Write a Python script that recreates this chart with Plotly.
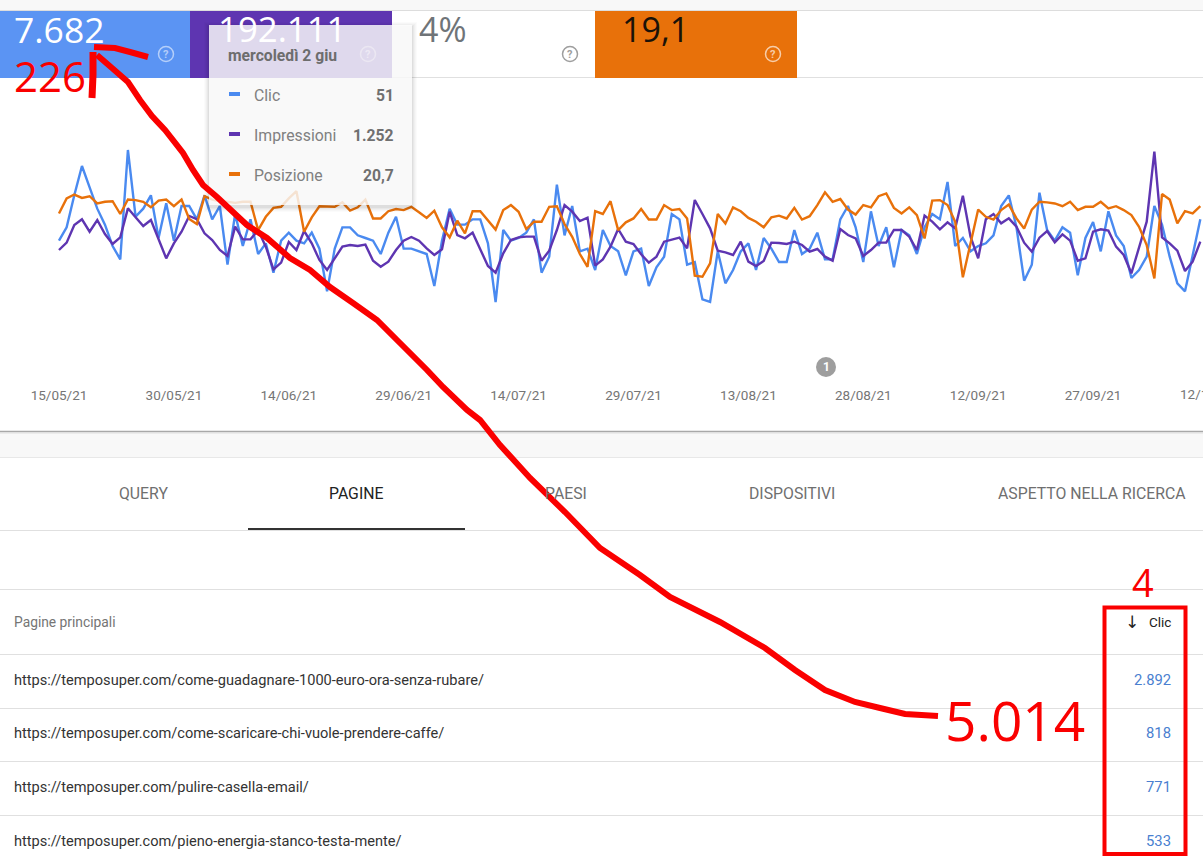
import pandas as pd
import plotly.graph_objects as go

W, H = 1203, 864

# ---------- data ----------
start_date = "2021-05-15"
clic = [43,48,60,71,63,55,49,41,36,77,52,55,60,44,57,43,56,56,51,60,51,56,34,53,41,51,38,42,31,43,46,43,42,46,40,24,40,48,48,45,44,43,38,46,52,
        40,40,39,38,26,43,55,49,49,51,51,42,20,47,43,44,46,51,31,37,64,45,56,39,40,32,47,41,39,30,39,40,26,33,37,53,51,34,35,21,20,39,27,32,39,42,32,44,40,35,35,47,
        38,40,46,36,36,51,56,48,35,54,41,48,33,47,45,38,48,53,51,65,41,44,39,41,42,45,56,60,48,28,34,61,47,43,48,46,30,44,50,39,54,45,41,29,32,37,56,49,37,27,24,38,51]
impressioni = [975,1041,1200,1251,1140,1245,1119,1029,1089,1350,1269,1191,1245,1080,900,1035,1140,1281,1252,1125,1065,975,921,1185,1071,1071,1155,1005,801,861,1047,975,1146,1035,885,795,900,1005,1020,1011,1023,879,825,870,975,
        1059,1092,1059,990,930,981,1320,1110,1080,1131,975,831,771,945,1065,1089,1095,1095,879,969,1155,1380,1320,1236,1266,834,891,1005,1164,1050,1029,936,861,915,1050,1071,1086,990,1425,1299,1170,969,954,930,1050,870,831,876,1041,1038,1029,1050,
        1020,960,984,915,879,1164,1110,1080,921,975,1041,1041,1155,1155,1095,975,1284,1230,1161,1224,1170,1464,1095,900,1251,1299,1215,1260,1185,1041,960,1086,1146,1044,1116,1059,879,900,1140,1161,1149,1005,930,765,990,1230,1860,1089,1035,969,786,870,1050]
posizione = [18.8,16.1,15.4,16.0,15.7,17.0,16.7,16.6,18.9,16.3,16.4,16.7,17.7,16.5,16.3,17.5,16.3,19.8,20.7,15.7,16.3,16.6,16.7,16.9,16.7,16.7,21.8,19.4,17.8,17.6,16.1,14.8,22.1,19.5,17.5,17.5,17.6,16.8,18.3,17.7,16.3,19.7,19.7,18.4,18.0,
        18.2,17.6,18.6,19.6,18.3,21.3,23.1,20.1,22.4,18.4,18.4,20.0,21.7,18.2,17.3,18.5,21.6,20.3,20.3,17.6,17.5,20.7,23.0,26.1,28.4,18.4,18.9,16.6,21.8,20.4,19.7,18.0,19.9,19.9,17.3,18.2,18.0,19.7,30.0,30.2,27.8,18.9,20.6,17.7,18.4,19.6,20.3,21.3,19.5,19.2,19.7,17.8,
        19.9,19.3,17.3,15.0,16.7,16.2,18.1,19.0,17.3,17.7,15.7,15.2,17.8,18.8,17.7,19.1,23.3,16.5,16.4,17.3,20.3,30.3,23.9,18.1,19.4,19.9,18.2,17.2,19.7,21.5,18.1,16.7,16.8,17.0,17.5,16.7,18.2,17.6,17.6,16.7,17.9,17.5,18.2,19.1,21.2,24.5,30.5,15.3,16.3,20.6,18.4,18.8,17.5]
tick_dates = ["2021-05-15","2021-05-30","2021-06-14","2021-06-29","2021-07-14","2021-07-29","2021-08-13","2021-08-28","2021-09-12","2021-09-27"]
tick_labels = ["15/05/21","30/05/21","14/06/21","29/06/21","14/07/21","29/07/21","13/08/21","28/08/21","12/09/21","27/09/21"]
last_tick_label = "12/10/21"

card_values = ["7.682", "192.111", "4%", "19,1"]
tabs = ["QUERY", "PAGINE", "PAESI", "DISPOSITIVI", "ASPETTO NELLA RICERCA"]
pages = ["https://temposuper.com/come-guadagnare-1000-euro-ora-senza-rubare/",
         "https://temposuper.com/come-scaricare-chi-vuole-prendere-caffe/",
         "https://temposuper.com/pulire-casella-email/",
         "https://temposuper.com/pieno-energia-stanco-testa-mente/"]
page_clicks = ["2.892", "818", "771", "533"]
tooltip_title = "mercoledì 2 giu"
tooltip_rows = [("Clic", "51"), ("Impressioni", "1.252"), ("Posizione", "20,7")]

BLUE, PURPLE, ORANGE = "#4a8af0", "#5e35b1", "#e8710a"
RED = "#fa0000"

# ---------- layout helpers (pixel -> paper) ----------
def X(p): return p / W
def Y(p): return 1 - p / H

shapes, annots = [], []

def rect(x0, y0, x1, y1, fill, layer="below", line=None, lw=0):
    shapes.append(dict(type="rect", xref="paper", yref="paper", x0=X(x0), x1=X(x1), y0=Y(y0), y1=Y(y1),
                       fillcolor=fill, layer=layer, line=dict(color=line or "rgba(0,0,0,0)", width=lw)))

def hline(x0, x1, y, color="#e0e0e0", w=1, layer="below"):
    shapes.append(dict(type="line", xref="paper", yref="paper", x0=X(x0), x1=X(x1), y0=Y(y), y1=Y(y),
                       layer=layer, line=dict(color=color, width=w)))

def text(x, y, s, size, color, anchor="left", font="Roboto", bold=False):
    annots.append(dict(xref="paper", yref="paper", x=X(x), y=Y(y), text=f"<b>{s}</b>" if bold else s, showarrow=False,
                       xanchor=anchor, yanchor="middle", font=dict(family=font, size=size, color=color),
                       borderpad=0, borderwidth=0))

def circle(cx, cy, r, fill="rgba(0,0,0,0)", line=None, lw=0, layer="below"):
    shapes.append(dict(type="circle", xref="paper", yref="paper", x0=X(cx - r), x1=X(cx + r), y0=Y(cy + r), y1=Y(cy - r),
                       fillcolor=fill, layer=layer, line=dict(color=line or "rgba(0,0,0,0)", width=lw)))

def path(points, color=RED, w=5):
    d = "M " + " L ".join(f"{X(a):.5f},{Y(b):.5f}" for a, b in points)
    shapes.append(dict(type="path", xref="paper", yref="paper", path=d, layer="above",
                       line=dict(color=color, width=w)))

# ---------- page furniture ----------
rect(0, 0, W, 10, "#f8f8f8")
hline(0, W, 10.5, "#dddddd", 1)
hline(0, W, 77.5, "#e0e0e0", 1)
rect(0, 11, 190, 78, "#5b94f3")
rect(190, 11, 392, 78, PURPLE)
rect(595, 11, 797, 78, ORANGE)
rect(0, 432, W, 457, "#f8f8f8")
hline(0, W, 431.5, "#a8a8a8", 1.5)
hline(0, W, 433, "#dddddd", 1)
hline(0, W, 457.5, "#e8e8e8", 1)
hline(0, W, 530.5, "#e0e0e0", 1)
hline(248, 465, 529, "#333333", 2)
for yy in (589.5, 654.5, 708.5, 761.5, 815.5):
    hline(0, W, yy, "#e0e0e0", 1)

# KPI cards
for x, v, c, s in zip((14, 218, 419, 622), card_values, ("#ffffff", "#ffffff", "#6f7478", "#1a1208"), (35.5, 34.8, 34, 34)):
    text(x, 29, v, s, c, font="Open Sans")
for cx, c in zip((166, 368, 570, 773), ("rgba(255,255,255,.55)", "rgba(255,255,255,.45)", "#9e9e9e", "rgba(255,255,255,.65)")):
    circle(cx, 54, 7.5, line=c, lw=1.5)
    text(cx, 54, "?", 11, c, "center", bold=True)

# tabs
for x, s, c in zip((143, 356, 566, 792, 1092), tabs, ("#6f6f6f", "#222222", "#6f6f6f", "#6f6f6f", "#6f6f6f")):
    text(x, 493, s, 15.8, c, "center")

# table
text(14, 622, "Pagine principali", 13.8, "#757575")
text(1171, 622, "Clic", 13.5, "#222222", "right")
text(1132, 622, "↓", 17, "#222222", "center", font="DejaVu Sans")
for yy, p, v in zip((680, 733, 787, 841), pages, page_clicks):
    text(14, yy, p, 14.6, "#333333")
    text(1171, yy, v, 14.8, "#4a7fd0", "right")

# annotation badge
circle(826, 367, 10, fill="#9e9e9e")
text(826, 367, "1", 12, "#ffffff", "center", bold=True)

# last date tick, cut by the page edge
text(1208, 394, last_tick_label, 13.5, "#757575", "center")

# tooltip with soft shadow
for g, a in ((5, .015), (4, .02), (3, .025), (2, .03), (1, .04)):
    rect(209 - g, 25 - g + 2, 412 + g, 205 + g + 2, f"rgba(0,0,0,{a})", layer="above")
rect(209, 25, 412, 205, "rgba(255,255,255,0.82)", layer="above")
text(228, 55, tooltip_title, 15.7, "#6d6d6d", bold=True)
for yy, (lab, val), col in zip((95, 135, 175), tooltip_rows, (BLUE, PURPLE, ORANGE)):
    hline(229, 240, yy - 1, col, 4, layer="above")
    text(254, yy, lab, 15.8, "#808080")
    text(394, yy, val, 15.7, "#707070", "right", bold=True)

# hand-drawn red marks
path([(97, 55), (112, 68), (128, 82), (140, 100), (152, 116), (165, 130), (173, 140), (183, 153), (193, 170), (203, 185),
      (217, 197), (233, 212), (247, 225), (267, 238), (290, 258), (310, 270), (330, 287), (353, 303), (377, 320),
      (400, 343), (427, 370), (443, 387), (467, 410), (480, 420), (500, 445), (530, 478), (565, 512), (600, 548),
      (640, 575), (670, 597), (720, 622), (765, 648), (795, 670), (825, 690), (855, 702), (880, 708), (905, 714), (938, 716)], w=6)
path([(94, 47), (115, 48), (130, 52), (148, 57)], w=6)
path([(93, 52), (93, 75), (92, 98)], w=7)
rect(1104.5, 607.5, 1185.5, 854, "rgba(0,0,0,0)", layer="above", line=RED, lw=4)
text(14, 75, "226", 42, RED, font="Open Sans")
text(945, 719, "5.014", 55, RED, font="Open Sans")
text(1143, 582, "4", 38, RED, "center", font="Open Sans")

# ---------- chart ----------
dates = pd.date_range(start_date, periods=len(clic))
TOP, BOT = 95, 385
fig = go.Figure()
fig.add_trace(go.Scatter(x=dates, y=posizione, name="Posizione", yaxis="y3", mode="lines",
                         line=dict(color=ORANGE, width=2.4), hoverinfo="skip"))
fig.add_trace(go.Scatter(x=dates, y=impressioni, name="Impressioni", yaxis="y2", mode="lines",
                         line=dict(color=PURPLE, width=2.4), hoverinfo="skip"))
fig.add_trace(go.Scatter(x=dates, y=clic, name="Clic", yaxis="y", mode="lines",
                         line=dict(color=BLUE, width=2.4), hoverinfo="skip"))

domain = [Y(BOT), Y(TOP)]
fig.update_layout(
    width=W, height=H, margin=dict(l=0, r=0, t=0, b=0),
    paper_bgcolor="#ffffff", plot_bgcolor="rgba(0,0,0,0)", showlegend=False,
    font=dict(family="Roboto"),
    xaxis=dict(type="date", range=["2021-05-07 07:12", "2021-10-11 08:24"], domain=[0, 1],
               tickvals=tick_dates, ticktext=tick_labels, showgrid=False, zeroline=False, showline=False,
               ticks="", tickfont=dict(family="Roboto", size=13.5, color="#757575"), tickangle=0),
    yaxis=dict(domain=domain, range=[(355.33 - BOT) * 3 / 8, (355.33 - TOP) * 3 / 8], visible=False),
    yaxis2=dict(domain=domain, overlaying="y", range=[(358.33 - BOT) * 9, (358.33 - TOP) * 9], visible=False),
    yaxis3=dict(domain=domain, overlaying="y", range=[20.7 + (BOT - 224) / 5.556, 20.7 + (TOP - 224) / 5.556], visible=False),
    shapes=shapes, annotations=annots,
)

fig.write_html("out.html", post_script="document.body.style.margin='0';document.body.style.overflow='hidden';",
               config=dict(displayModeBar=False))
